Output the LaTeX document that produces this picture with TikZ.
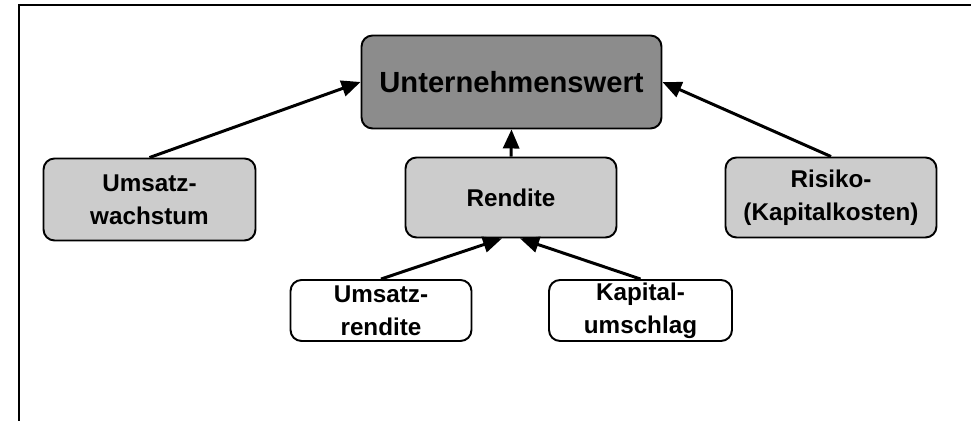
\documentclass[tikz,border=0pt]{standalone}
\usepackage{fontspec}
\setmainfont{Liberation Sans}
\usepackage{tikz}
\usetikzlibrary{arrows.meta,calc}

\tikzset{
  kasten/.style={draw=black, line width=1.1pt, rounded corners=0.22cm, align=center,
    inner sep=0pt, font=\bfseries\fontsize{13.8}{18.6}\selectfont},
  hell/.style={kasten, fill=black!20},
  weiss/.style={kasten, fill=white},
  dunkel/.style={kasten, fill=black!45, font=\bfseries\fontsize{16.6}{20}\selectfont},
  pfeil/.style={line width=1.7pt, -{Triangle[length=0.38cm,width=0.32cm]}}
}

\begin{document}
\begin{tikzpicture}[x=0.02cm,y=-0.02cm]
\useasboundingbox (0,0) rectangle (971,421);
% Rahmen
\draw[line width=1.1pt] (971,5) -- (19,5) -- (19,421);

\node[dunkel, minimum width=6.0cm, minimum height=1.86cm] (wert) at (511.5,82) {Unternehmenswert};
\node[hell, minimum width=4.24cm, minimum height=1.64cm] (wachstum) at (149.5,199.5) {Umsatz-\\wachstum};
\node[hell, minimum width=4.22cm, minimum height=1.6cm] (rendite) at (511,197.5) {Rendite};
\node[hell, minimum width=4.22cm, minimum height=1.6cm] (risiko) at (831,197.5) {Risiko-\\(Kapitalkosten)};
\node[weiss, minimum width=3.62cm, minimum height=1.22cm] (umsrend) at (381,310.5) {Umsatz-\\rendite};
\node[weiss, minimum width=3.66cm, minimum height=1.22cm] (kapumschl) at (640.5,310.5) {Kapital-\\umschlag};

\draw[pfeil] (wachstum.north) -- (wert.west);
\draw[pfeil] (risiko.north) -- (wert.east);
\draw[pfeil] (rendite.north) -- (wert.south);
\draw[pfeil] (umsrend.north) -- ([xshift=-0.18cm]rendite.south);
\draw[pfeil] (kapumschl.north) -- ([xshift=0.18cm]rendite.south);
\end{tikzpicture}
\end{document}
